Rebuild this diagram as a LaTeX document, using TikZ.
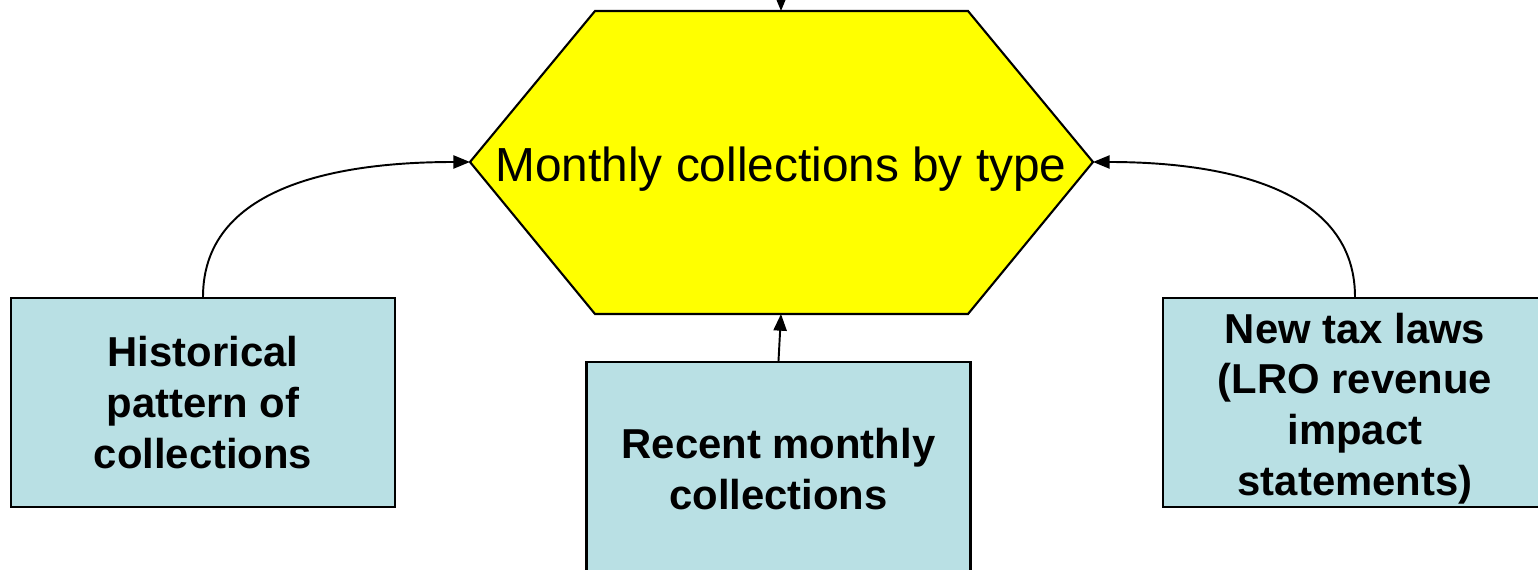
\documentclass[tikz,border=0pt]{standalone}
\usepackage{fontspec}
\setmainfont{Liberation Sans}
\usetikzlibrary{arrows.meta}
\definecolor{hexyellow}{RGB}{255,255,0}
\definecolor{boxblue}{RGB}{185,224,228}
\tikzset{
  flow arrow/.style={
    -{Triangle[length=9.5pt,width=7.5pt]},
    line width=1.1pt,
    color=black
  },
  input box/.style={
    draw=black,
    line width=1.3pt,
    fill=boxblue,
    minimum width=7.68cm,
    minimum height=4.18cm,
    inner sep=0pt,
    align=center,
    font=\fontsize{23.8}{28.9}\selectfont\bfseries
  },
  hex label/.style={
    inner sep=0pt,
    font=\fontsize{27.2}{32}\selectfont
  }
}

\begin{document}
\begin{tikzpicture}[x=0.02cm, y=-0.02cm]
  \useasboundingbox (0,0) rectangle (1538,570);

  %% ---- central hexagon ----
  \coordinate (hexT) at (781,11);
  \coordinate (hexB) at (781,314);
  \coordinate (hexL) at (470,162);
  \coordinate (hexR) at (1093,162);
  \draw[line width=1.2pt, fill=hexyellow]
      (595,11) -- (968,11) -- (hexR) -- (968,314) -- (595,314) -- (hexL) -- cycle;
  \node[hex label] (hex) at (781,169) {Monthly collections by type};

  %% ---- input boxes ----
  \node[input box] (hist) at (203,402.5) {Historical\\pattern of\\collections};
  \node[input box, minimum height=4.28cm] (recent) at (778.5,469) {Recent monthly\\collections};
  % strut on first line pushes the text a little lower
  \node[input box] (taxlaw) at (1355,402.5)
      {\rule{0pt}{24pt}New tax laws\\(LRO revenue\\impact\\statements)};

  %% ---- connectors ----
  % incoming arrow from above the picture
  \coordinate (above) at (781,-30);
  \draw[flow arrow] (above) -- (hexT);
  \draw[flow arrow] (hist.north) to[out=90, in=180] (hexL);
  \draw[flow arrow] (recent.north) -- (hexB);
  \draw[flow arrow] (taxlaw.north) to[out=90, in=0] (hexR);
\end{tikzpicture}
\end{document}
